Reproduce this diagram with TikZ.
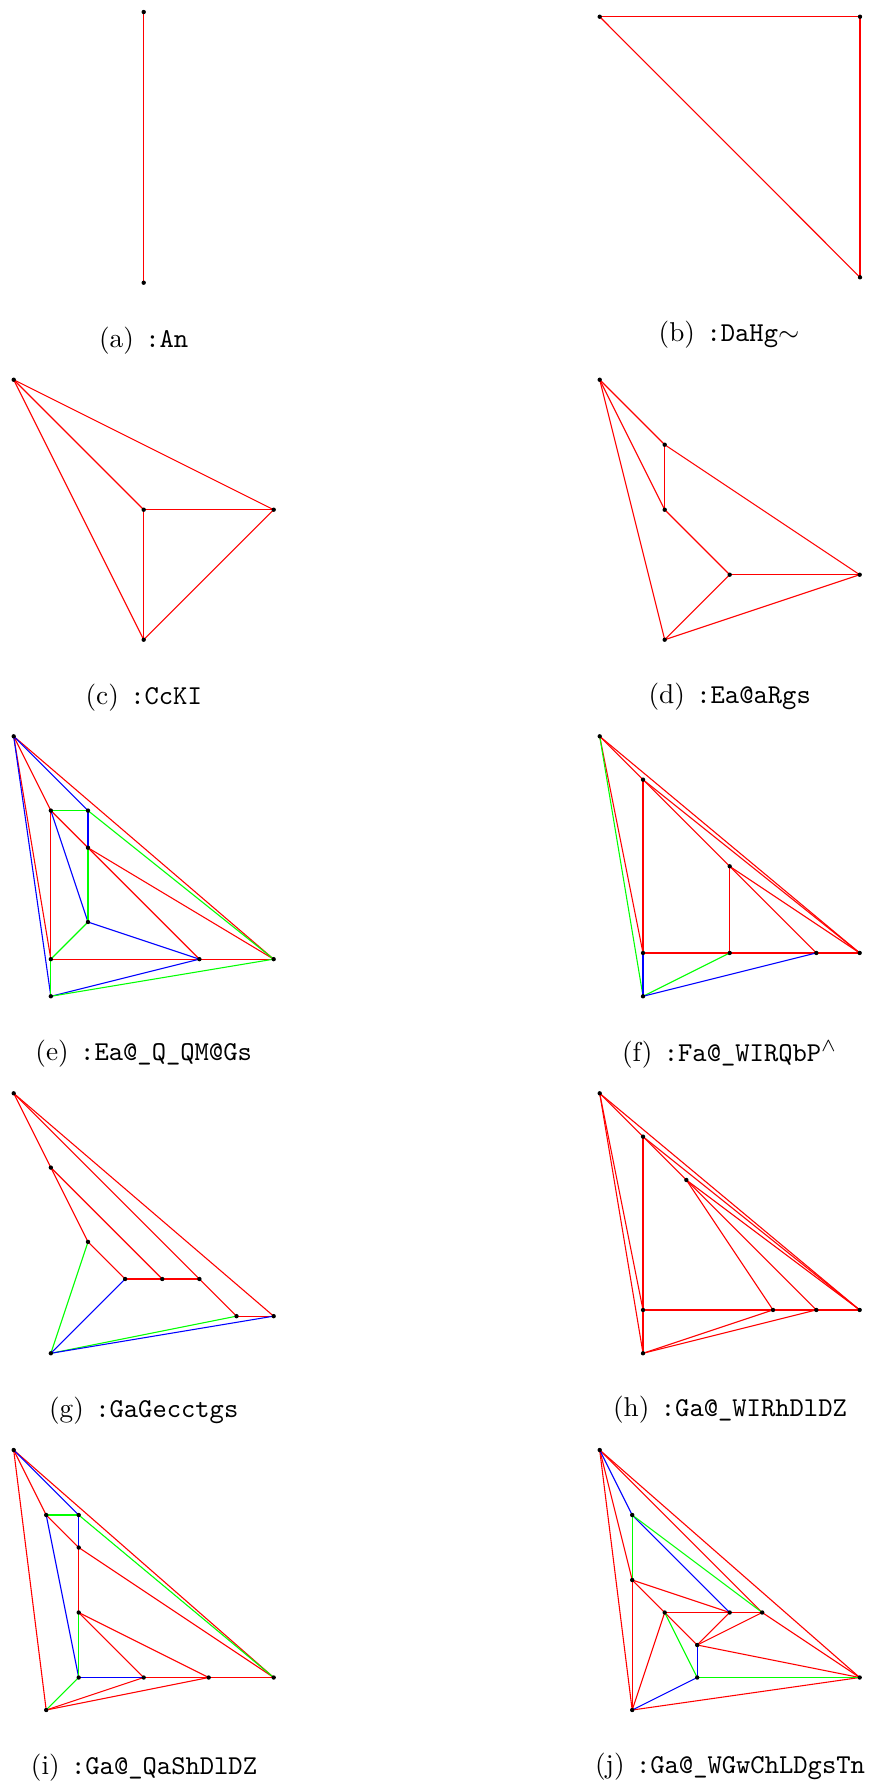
\documentclass[tikz,border=0pt]{standalone}
\pgfdeclarelayer{edges}
\pgfsetlayers{edges,main}
\tikzset{
  vtx/.style={circle,fill=black,inner sep=0pt,minimum size=1.6pt},
  redE/.style={draw={rgb,255:red,255;green,0;blue,0},line width=0.4pt},
  greenE/.style={draw={rgb,255:red,0;green,255;blue,0},line width=0.4pt},
  blueE/.style={draw={rgb,255:red,0;green,0;blue,255},line width=0.4pt},
  captext/.style={anchor=base,inner sep=0pt,font=\normalsize}
}
\begin{document}
\begin{tikzpicture}[x=0.367pt,y=-0.367pt]
\useasboundingbox (0,0) rectangle (874,1785);
% (a)
\node[vtx] (a1) at (143.7,12) {};
\node[vtx] (a2) at (143.7,282.7) {};
% (b)
\node[vtx] (b1) at (599.7,16.7) {};
\node[vtx] (b2) at (860,16.7) {};
\node[vtx] (b3) at (860,277.3) {};
% (c)
\begin{scope}[shift={(13.7,379.7)},scale=130]
\node[vtx] (c1) at (0,0) {};
\node[vtx] (c2) at (1,1) {};
\node[vtx] (c3) at (2,1) {};
\node[vtx] (c4) at (1,2) {};
\end{scope}
% (d)
\begin{scope}[shift={(599.7,379.7)},scale=65]
\node[vtx] (d1) at (0,0) {};
\node[vtx] (d2) at (1,1) {};
\node[vtx] (d3) at (1,2) {};
\node[vtx] (d4) at (2,3) {};
\node[vtx] (d5) at (4,3) {};
\node[vtx] (d6) at (1,4) {};
\end{scope}
% (e)
\begin{scope}[shift={(13.7,736.3)},scale=37.14]
\node[vtx] (e1) at (0,0) {};
\node[vtx] (e2) at (1,2) {};
\node[vtx] (e3) at (2,2) {};
\node[vtx] (e4) at (2,3) {};
\node[vtx] (e5) at (2,5) {};
\node[vtx] (e6) at (1,6) {};
\node[vtx] (e7) at (5,6) {};
\node[vtx] (e8) at (7,6) {};
\node[vtx] (e9) at (1,7) {};
\end{scope}
% (f)
\begin{scope}[shift={(599.7,736.3)},scale=43.33]
\node[vtx] (f1) at (0,0) {};
\node[vtx] (f2) at (1,1) {};
\node[vtx] (f3) at (3,3) {};
\node[vtx] (f4) at (1,5) {};
\node[vtx] (f5) at (3,5) {};
\node[vtx] (f6) at (5,5) {};
\node[vtx] (f7) at (6,5) {};
\node[vtx] (f8) at (1,6) {};
\end{scope}
% (g)
\begin{scope}[shift={(13.7,1093.3)},scale=37.14]
\node[vtx] (g1) at (0,0) {};
\node[vtx] (g2) at (1,2) {};
\node[vtx] (g3) at (2,4) {};
\node[vtx] (g4) at (3,5) {};
\node[vtx] (g5) at (4,5) {};
\node[vtx] (g6) at (5,5) {};
\node[vtx] (g7) at (6,6) {};
\node[vtx] (g8) at (7,6) {};
\node[vtx] (g9) at (1,7) {};
\end{scope}
% (h)
\begin{scope}[shift={(599.7,1093.3)},scale=43.33]
\node[vtx] (h1) at (0,0) {};
\node[vtx] (h2) at (1,1) {};
\node[vtx] (h3) at (2,2) {};
\node[vtx] (h4) at (1,5) {};
\node[vtx] (h5) at (4,5) {};
\node[vtx] (h6) at (5,5) {};
\node[vtx] (h7) at (6,5) {};
\node[vtx] (h8) at (1,6) {};
\end{scope}
% (i)
\begin{scope}[shift={(13.7,1450)},scale=32.5]
\node[vtx] (i1) at (0,0) {};
\node[vtx] (i2) at (1,2) {};
\node[vtx] (i3) at (2,2) {};
\node[vtx] (i4) at (2,3) {};
\node[vtx] (i5) at (2,5) {};
\node[vtx] (i6) at (2,7) {};
\node[vtx] (i7) at (4,7) {};
\node[vtx] (i8) at (6,7) {};
\node[vtx] (i9) at (8,7) {};
\node[vtx] (i10) at (1,8) {};
\end{scope}
% (j)
\begin{scope}[shift={(599.7,1450)},scale=32.5]
\node[vtx] (j1) at (0,0) {};
\node[vtx] (j2) at (1,2) {};
\node[vtx] (j3) at (1,4) {};
\node[vtx] (j4) at (2,5) {};
\node[vtx] (j5) at (4,5) {};
\node[vtx] (j6) at (5,5) {};
\node[vtx] (j7) at (3,6) {};
\node[vtx] (j8) at (3,7) {};
\node[vtx] (j9) at (8,7) {};
\node[vtx] (j10) at (1,8) {};
\end{scope}
% captions
\node[captext] (capa) at (143.7,347.5) {(a)\hspace{0.42em}\texttt{:An}};
\node[captext] (capb) at (729,341.8) {(b)\hspace{0.42em}\texttt{:DaHg}$\sim$};
\node[captext] (capc) at (143.7,704) {(c)\hspace{0.42em}\texttt{:CcKI}};
\node[captext] (capd) at (729.7,703.5) {(d)\hspace{0.42em}\texttt{:Ea@aRgs}};
\node[captext] (cape) at (143.7,1060) {(e)\hspace{0.42em}\texttt{:Ea@\_Q\_QM@Gs}};
\node[captext] (capf) at (729.7,1061) {(f)\hspace{0.42em}\texttt{:Fa@\_WIRQbP}$^\wedge$};
\node[captext] (capg) at (143.7,1417) {(g)\hspace{0.42em}\texttt{:GaGecctgs}};
\node[captext] (caph) at (730,1416) {(h)\hspace{0.42em}\texttt{:Ga@\_WIRhDlDZ}};
\node[captext] (capi) at (144,1774.5) {(i)\hspace{0.42em}\texttt{:Ga@\_QaShDlDZ}};
\node[captext] (capj) at (730,1773.5) {(j)\hspace{0.42em}\texttt{:Ga@\_WGwChLDgsTn}};
% edges
\begin{pgfonlayer}{edges}
\foreach \u/\v/\s in {
  a1/a2/redE,
  b1/b2/redE, b2/b3/redE, b1/b3/redE,
  c1/c3/redE, c1/c2/redE, c1/c4/redE, c2/c3/redE, c2/c4/redE, c3/c4/redE,
  d1/d2/redE, d1/d3/redE, d1/d6/redE, d2/d3/redE, d2/d5/redE, d3/d4/redE, d4/d5/redE, d4/d6/redE, d5/d6/redE,
  e1/e8/redE, e1/e2/redE, e1/e6/redE, e2/e4/redE, e2/e6/redE, e4/e7/redE, e4/e8/redE, e6/e7/redE, e7/e8/redE,
  e1/e3/blueE, e1/e9/blueE, e3/e4/blueE, e2/e5/blueE, e5/e7/blueE, e9/e7/blueE,
  e2/e3/greenE, e3/e8/greenE, e4/e5/greenE, e5/e6/greenE, e6/e9/greenE, e9/e8/greenE,
  f1/f7/redE, f1/f2/redE, f1/f4/redE, f2/f7/redE, f2/f3/redE, f3/f6/redE, f3/f7/redE, f3/f5/redE, f2/f4/redE, f4/f5/redE, f5/f6/redE, f6/f7/redE,
  f1/f8/greenE, f8/f5/greenE, f4/f8/blueE, f8/f6/blueE,
  g1/g8/redE, g1/g2/redE, g1/g6/redE, g6/g7/redE, g2/g3/redE, g2/g5/redE, g3/g4/redE, g4/g5/redE, g5/g6/redE, g7/g8/redE,
  g3/g9/greenE, g9/g7/greenE, g4/g9/blueE, g9/g8/blueE,
  h1/h7/redE, h1/h2/redE, h2/h3/redE, h1/h4/redE, h1/h8/redE, h2/h4/redE, h2/h7/redE, h3/h7/redE, h3/h5/redE, h3/h6/redE, h4/h5/redE, h5/h6/redE, h6/h7/redE, h4/h8/redE, h8/h5/redE, h8/h6/redE,
  i1/i9/redE, i1/i2/redE, i1/i10/redE, i2/i4/redE, i4/i5/redE, i4/i9/redE, i5/i7/redE, i5/i8/redE, i7/i8/redE, i8/i9/redE, i10/i7/redE, i10/i8/redE,
  i1/i3/blueE, i3/i4/blueE, i2/i6/blueE, i6/i7/blueE,
  i2/i3/greenE, i3/i9/greenE, i5/i6/greenE, i6/i10/greenE,
  j1/j9/redE, j1/j6/redE, j6/j9/redE, j1/j3/redE, j1/j10/redE, j3/j5/redE, j3/j4/redE, j3/j10/redE, j4/j5/redE, j5/j6/redE, j4/j7/redE, j4/j10/redE, j5/j7/redE, j6/j7/redE, j7/j9/redE, j10/j9/redE,
  j1/j2/blueE, j2/j5/blueE, j7/j8/blueE, j8/j10/blueE,
  j2/j3/greenE, j2/j6/greenE, j4/j8/greenE, j8/j9/greenE}
  \draw[\s] (\u.center) -- (\v.center);
\end{pgfonlayer}
\end{tikzpicture}
\end{document}
